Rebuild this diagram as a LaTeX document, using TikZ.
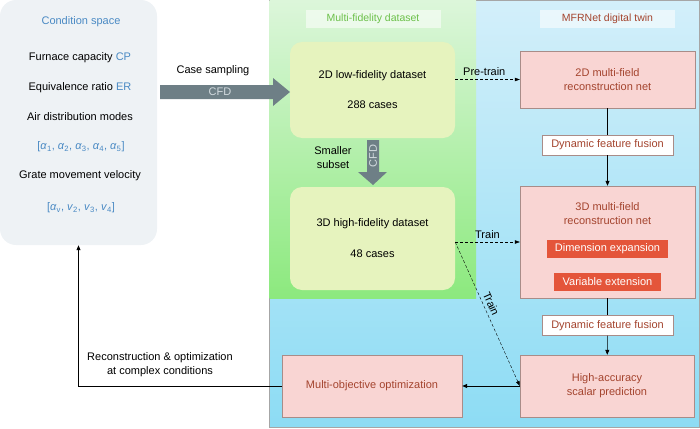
\documentclass[tikz,border=0pt]{standalone}
\usepackage{fontspec}
\setmainfont{Liberation Sans}
\usetikzlibrary{arrows.meta,positioning}

\definecolor{condfill}{HTML}{EEF2F5}
\definecolor{condblue}{HTML}{4A8AC4}
\definecolor{netfill}{HTML}{F9D5D3}
\definecolor{netdraw}{HTML}{A98C88}
\definecolor{nettext}{HTML}{A4442E}
\definecolor{tagfill}{HTML}{E4553A}
\definecolor{datafill}{HTML}{E6F3BE}
\definecolor{greentop}{HTML}{DCF6DA}
\definecolor{greenbot}{HTML}{8CE97E}
\definecolor{bluetop}{HTML}{D3EFFA}
\definecolor{bluebot}{HTML}{8DDCF4}
\definecolor{titlegreen}{HTML}{6CC04A}
\definecolor{arrowgray}{HTML}{6E7F86}
\definecolor{cfdtext}{HTML}{D3DBDF}

\newcommand{\ga}[1]{\textit{α}\textsubscript{#1}}
\newcommand{\gv}[1]{\textit{v}\textsubscript{#1}}

\begin{document}
\begin{tikzpicture}[x=1pt,y=-1pt,font=\fontsize{11}{14}\selectfont,
  netbox/.style={draw=netdraw,fill=netfill,text=nettext,align=center,inner sep=0pt},
  fusebox/.style={draw=netdraw,fill=white,text=nettext,minimum width=131pt,minimum height=20pt,inner sep=0pt},
  tagbox/.style={fill=tagfill,text=white,minimum height=18pt,inner sep=0pt},
  databox/.style={fill=datafill,rounded corners=12pt,minimum width=165pt,align=center,inner sep=0pt},
  titlebox/.style={fill=white,fill opacity=0.55,text opacity=1,minimum width=135pt,minimum height=18pt,inner sep=0pt,font=\fontsize{10.5}{12}\selectfont},
  flow/.style={-{Triangle[length=5pt,width=4pt]},semithick},
  trainflow/.style={-{Triangle[length=5pt,width=3.5pt]},densely dashed,thin}]

  \useasboundingbox (0,0) rectangle (700,428);

  % panels
  \shade[top color=bluetop,bottom color=bluebot,draw=gray!70] (269,0.5) rectangle (699.5,427);
  \shade[top color=greentop,bottom color=greenbot] (269.5,1) rectangle (476,298);

  % condition space
  \node[fill=condfill,rounded corners=16pt,minimum width=157pt,minimum height=245pt,inner sep=0pt] (cond) at (78.5,122.5) {};
  \node[text=condblue] (cstitle) at (81,22) {Condition space};
  \node (cp) at (80,58) {Furnace capacity \textcolor{condblue}{CP}};
  \node (er) at (80,88) {Equivalence ratio \textcolor{condblue}{ER}};
  \node (air) at (80,117) {Air distribution modes};
  \node[text=condblue] (alpha) at (81,147) {[\ga{1}, \ga{2}, \ga{3}, \ga{4}, \ga{5}]};
  \node (grate) at (80,176) {Grate movement velocity};
  \node[text=condblue] (velo) at (81,208) {[\ga{v}, \gv{2}, \gv{3}, \gv{4}]};

  % titles
  \node[titlebox,text=titlegreen] (mfd) at (373,19) {Multi-fidelity dataset};
  \node[titlebox,text=nettext] (twin) at (607.5,19) {MFRNet digital twin};

  % datasets
  \node[databox,minimum height=96pt] (low) at (372.5,90) {2D low-fidelity dataset\\[16pt]288 cases};
  \node[databox,minimum height=103pt] (high) at (372.5,238.5) {3D high-fidelity dataset\\[17pt]48 cases};

  % CFD block arrows
  \fill[arrowgray] (160,85) -- (273,85) -- (273,78) -- (290,92) -- (273,106) -- (273,99) -- (160,99) -- cycle;
  \node[text=cfdtext] (cfdh) at (220,92) {CFD};
  \node (sampling) at (213,71) {Case sampling};
  \fill[arrowgray] (367,140) -- (379,140) -- (379,172) -- (387,172) -- (373,185) -- (358,172) -- (367,172) -- cycle;
  \node[rotate=90,text=cfdtext] (cfdv) at (373,156) {CFD};
  \node[align=center] (subset) at (333,158) {Smaller\\subset};

  % MFRNet
  \node[netbox,minimum width=175pt,minimum height=57pt] (net2d) at (607.5,79.5) {2D multi-field\\reconstruction net};
  \node[fusebox] (fuse1) at (607.5,145) {Dynamic feature fusion};
  \node[netbox,minimum width=175pt,minimum height=112pt] (net3d) at (607.5,242) {};
  \node[text=nettext,align=center] (net3dtitle) at (607.5,214) {3D multi-field\\reconstruction net};
  \node[tagbox,minimum width=121pt] (dimexp) at (607.5,249) {Dimension expansion};
  \node[tagbox,minimum width=107pt] (varext) at (607.5,282) {Variable extension};
  \node[fusebox] (fuse2) at (607.5,325.5) {Dynamic feature fusion};
  \node[netbox,minimum width=174pt,minimum height=62pt] (scalar) at (607,386) {High-accuracy\\scalar prediction};
  \node[netbox,minimum width=180pt,minimum height=62pt] (moo) at (372,386) {Multi-objective optimization};

  % connectors
  \draw[semithick] (net2d) -- (fuse1);
  \draw[flow] (fuse1) -- (net3d);
  \draw[semithick] (net3d) -- (fuse2);
  \draw[flow] (fuse2) -- (scalar);
  \draw[flow,thick] (scalar) -- (moo);
  \draw[flow,thick] (moo.west) -| (cond.south);
  \node[align=center] (recon) at (160,365) {Reconstruction \& optimization\\at complex conditions};

  \draw[trainflow] (net2d.west -| low.east) -- (net2d.west) node[above,pos=0.45] {Pre-train};
  \draw[trainflow] (net3d.west -| high.east) -- (net3d.west) node[above,pos=0.5] {Train};
  \draw[trainflow] (net3d.west -| high.east) -- (scalar.west) node[sloped,above,pos=0.45] {Train};
\end{tikzpicture}
\end{document}
